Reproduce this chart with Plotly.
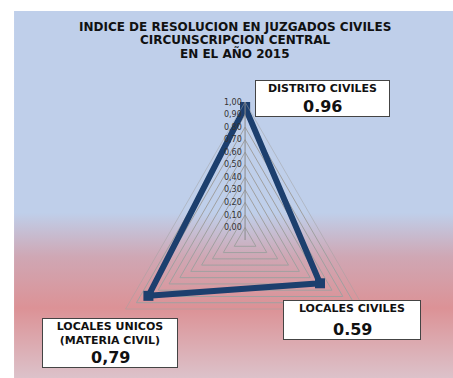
import plotly.graph_objects as go

titulo = ["INDICE DE RESOLUCION EN JUZGADOS CIVILES",
          "CIRCUNSCRIPCION CENTRAL",
          "EN EL AÑO 2015"]
categorias = ["DISTRITO CIVILES", "LOCALES CIVILES", "LOCALES UNICOS (MATERIA CIVIL)"]
indices = [0.96, 0.59, 0.79]
nombres = ["DISTRITO CIVILES", "LOCALES CIVILES", "LOCALES UNICOS<br>(MATERIA CIVIL)"]
valores_texto = ["0.96", "0.59", "0,79"]
ticks = [0.0, 0.1, 0.2, 0.3, 0.4, 0.5, 0.6, 0.7, 0.8, 0.9, 1.0]
ticks_texto = ["0,00", "0,10", "0,20", "0,30", "0,40", "0,50",
               "0,60", "0,70", "0,80", "0,90", "1,00"]

W, H = 453, 378

fig = go.Figure()

# fondo degradado azul -> rosa
fig.add_trace(go.Scatter(
    x=[0.031, 1, 1, 0.031, 0.031], y=[0, 0, 0.971, 0.971, 0],
    mode="lines", line=dict(width=0), fill="toself", hoverinfo="skip",
    fillgradient=dict(type="vertical", start=0, stop=0.971,
                      colorscale=[[0, "#dcc2ca"], [0.19, "#dc9296"],
                                  [0.33, "#cfa7b4"], [0.45, "#bfcfea"],
                                  [1, "#bfcfea"]]),
    showlegend=False))

fig.add_trace(go.Scatterpolar(
    r=indices + indices[:1], theta=categorias + categorias[:1],
    mode="lines+markers",
    line=dict(color="#1c3f6e", width=6),
    marker=dict(symbol="square", size=10, color="#1c3f6e"),
    showlegend=False))

fig.update_layout(
    width=W, height=H,
    margin=dict(l=0, r=0, t=0, b=0),
    paper_bgcolor="white", plot_bgcolor="rgba(0,0,0,0)",
    font=dict(family="DejaVu Sans, sans-serif", color="#111"),
    xaxis=dict(range=[0, 1], domain=[0, 1], visible=False, fixedrange=True),
    yaxis=dict(range=[0, 1], domain=[0, 1], visible=False, fixedrange=True),
    polar=dict(
        domain=dict(x=[0.236, 0.846], y=[0, 0.73]),
        bgcolor="rgba(0,0,0,0)",
        gridshape="linear",
        radialaxis=dict(range=[-0.1, 1.0], tickvals=ticks, ticktext=ticks_texto,
                        angle=90, tickangle=90, side="counterclockwise",
                        showline=True, linecolor="#8a8a8a", linewidth=1,
                        gridcolor="#a0a0a0", gridwidth=0.5,
                        ticks="", tickfont=dict(size=8, color="#333")),
        angularaxis=dict(rotation=90, direction="clockwise",
                         showticklabels=False, ticks="",
                         linecolor="#a0a0a0", linewidth=0.5,
                         gridcolor="rgba(0,0,0,0)"),
    ),
)

# titulo en tres lineas
for linea, yy in zip(titulo, [27, 40, 53]):
    fig.add_annotation(x=235 / W, y=1 - yy / H, xref="paper", yref="paper",
                       xanchor="center", yanchor="middle", showarrow=False,
                       text="<b>" + linea + "</b>",
                       font=dict(size=12, color="#111"))

# cajas de etiquetas: (x izq, y sup, ancho, alto) en pixeles
cajas = [(255, 80, 135, 37), (283, 300, 138, 40), (42, 318, 136, 50)]
for nombre, valor, (x0, y0, w, h) in zip(nombres, valores_texto, cajas):
    fig.add_annotation(
        x=x0 / W, y=1 - y0 / H, xref="paper", yref="paper",
        xanchor="left", yanchor="top", showarrow=False,
        text="<b>" + nombre + "</b>", valign="top", align="center",
        font=dict(size=11, color="#111"),
        bgcolor="white", bordercolor="#444", borderwidth=1, borderpad=1,
        width=w - 4, height=h - 4)
    fig.add_annotation(
        x=(x0 + w / 2) / W, y=1 - (y0 + h - 11) / H, xref="paper", yref="paper",
        xanchor="center", yanchor="middle", showarrow=False,
        text="<b>" + valor + "</b>", font=dict(size=16, color="#111"))

fig.write_html("out.html", config={"displayModeBar": False},
               post_script="document.body.style.margin='0';")
